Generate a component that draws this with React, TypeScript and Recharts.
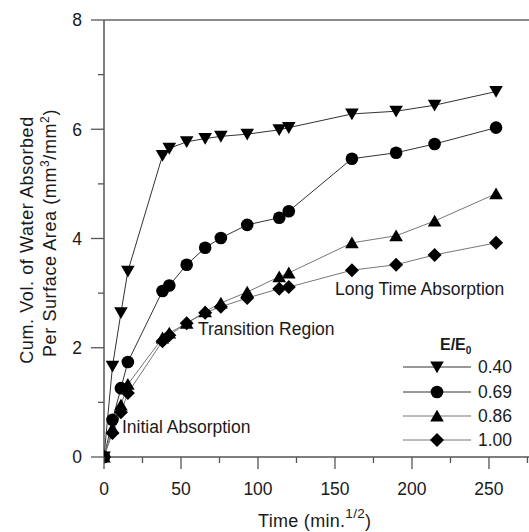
import React from 'react';
import { LineChart, Line, XAxis, YAxis, ReferenceLine } from 'recharts';

const times = [0, 5.5, 11, 15.5, 38, 42.4, 53.7, 65.7, 75.9, 93, 113.8, 120, 161, 189.7, 214.7, 254.6];
const s040 = [0, 1.66, 2.64, 3.4, 5.52, 5.65, 5.77, 5.83, 5.87, 5.91, 5.99, 6.03, 6.28, 6.33, 6.44, 6.69];
const s069 = [0, 0.68, 1.26, 1.74, 3.04, 3.14, 3.52, 3.83, 4.01, 4.25, 4.38, 4.5, 5.46, 5.57, 5.73, 6.03];
const s086 = [0, 0.52, 0.95, 1.33, 2.18, 2.27, 2.45, 2.66, 2.82, 3.02, 3.3, 3.37, 3.92, 4.05, 4.32, 4.82];
const s100 = [0, 0.44, 0.82, 1.17, 2.12, 2.23, 2.45, 2.64, 2.75, 2.91, 3.08, 3.11, 3.42, 3.52, 3.7, 3.92];
const seriesLabels = ['0.40', '0.69', '0.86', '1.00'];
const xTicks = [0, 25, 50, 75, 100, 125, 150, 175, 200, 225, 250, 275];
const yTicks = [0, 1, 2, 3, 4, 5, 6, 7, 8];

const data = times.map((t, i) => ({ t, a: s040[i], b: s069[i], c: s086[i], d: s100[i] }));

const FONT = '"Liberation Sans", Arial, sans-serif';
const AXIS = '#555';
const TXT = '#1a1a1a';

type Kind = 'down' | 'circle' | 'up' | 'diamond';

function Marker({ kind, cx, cy }: { kind: Kind; cx: number; cy: number }) {
  if (kind === 'circle') return <circle cx={cx} cy={cy} r={6.3} fill="#000" />;
  if (kind === 'down')
    return <polygon points={`${cx - 6.8},${cy - 5.5} ${cx + 6.8},${cy - 5.5} ${cx},${cy + 6.3}`} fill="#000" />;
  if (kind === 'up')
    return <polygon points={`${cx - 6.8},${cy + 5.5} ${cx + 6.8},${cy + 5.5} ${cx},${cy - 6.3}`} fill="#000" />;
  return <polygon points={`${cx},${cy - 7} ${cx + 7},${cy} ${cx},${cy + 7} ${cx - 7},${cy}`} fill="#000" />;
}

const makeDot = (kind: Kind) => (p: any) => {
  if (p.cx == null || p.cy == null) return <g key={`${kind}-${p.index}`} />;
  return (
    <g key={`${kind}-${p.index}`}>
      <Marker kind={kind} cx={p.cx} cy={p.cy} />
    </g>
  );
};

function XTick(props: any) {
  const { x, y, payload } = props;
  const major = payload.value % 50 === 0;
  return (
    <g>
      <line x1={x} x2={x} y1={y} y2={y + (major ? 12 : 6)} stroke={AXIS} strokeWidth={1.3} />
      {major && (
        <text x={x} y={y + 38} textAnchor="middle" fontSize={17.5} fontFamily={FONT} fill={TXT}>
          {payload.value}
        </text>
      )}
    </g>
  );
}

function YTick(props: any) {
  const { x, y, payload } = props;
  const major = payload.value % 2 === 0;
  return (
    <g>
      <line x1={x} x2={x - (major ? 13 : 6)} y1={y} y2={y} stroke={AXIS} strokeWidth={1.3} />
      {major && (
        <text x={x - 22} y={y + 6.3} textAnchor="end" fontSize={17.5} fontFamily={FONT} fill={TXT}>
          {payload.value}
        </text>
      )}
    </g>
  );
}

const series: { key: string; kind: Kind; stroke: string }[] = [
  { key: 'a', kind: 'down', stroke: '#333' },
  { key: 'b', kind: 'circle', stroke: '#333' },
  { key: 'c', kind: 'up', stroke: '#777' },
  { key: 'd', kind: 'diamond', stroke: '#777' },
];

export default function App() {
  const legendY = [367, 392, 416, 440];
  return (
    <div style={{ position: 'fixed', left: 0, top: 0, width: 529, height: 532, background: '#fff' }}>
      <LineChart width={529} height={532} data={data} margin={{ top: 20, right: 0, bottom: 0, left: 0 }}>
        <XAxis
          dataKey="t"
          type="number"
          domain={[0, 276]}
          ticks={xTicks}
          interval={0}
          height={75}
          tickSize={0}
          tickMargin={0}
          tickLine={false}
          tick={<XTick />}
          axisLine={{ stroke: AXIS, strokeWidth: 1.5 }}
          allowDataOverflow
        />
        <YAxis
          type="number"
          domain={[0, 8]}
          ticks={yTicks}
          interval={0}
          width={104}
          tickSize={0}
          tickMargin={0}
          tickLine={false}
          tick={<YTick />}
          axisLine={{ stroke: AXIS, strokeWidth: 1.5 }}
        />
        <ReferenceLine y={8} stroke="#666" strokeWidth={1.5} />
        {series.map((s) => (
          <Line
            key={s.key}
            type="linear"
            dataKey={s.key}
            stroke={s.stroke}
            strokeWidth={1}
            dot={makeDot(s.kind)}
            activeDot={false}
            isAnimationActive={false}
          />
        ))}
      </LineChart>
      <svg
        width={529}
        height={532}
        style={{ position: 'absolute', left: 0, top: 0, pointerEvents: 'none' }}
        fontFamily={FONT}
      >
        <text
          transform="translate(33,240) rotate(-90)"
          textAnchor="middle"
          fontSize={18}
          letterSpacing={0.6}
          fill={TXT}
        >
          Cum. Vol. of Water Absorbed
        </text>
        <text
          transform="translate(56,233) rotate(-90)"
          textAnchor="middle"
          fontSize={18}
          letterSpacing={0.6}
          fill={TXT}
        >
          Per Surface Area (mm
          <tspan fontSize={12} dy={-7}>3</tspan>
          <tspan dy={7}>/mm</tspan>
          <tspan fontSize={12} dy={-7}>2</tspan>
          <tspan dy={7}>)</tspan>
        </text>
        <text x={258} y={527} fontSize={18} letterSpacing={0.3} fill={TXT}>
          Time (min.
          <tspan fontSize={13.5} dy={-9}>1/2</tspan>
          <tspan dy={9}>)</tspan>
        </text>
        <text x={122} y={433} fontSize={17.5} fill={TXT}>
          Initial Absorption
        </text>
        <text x={198} y={335} fontSize={17.5} fill={TXT}>
          Transition Region
        </text>
        <text x={335} y={295} fontSize={17.5} fill={TXT}>
          Long Time Absorption
        </text>
        <text x={440} y={350} fontSize={16} fontWeight="bold" fill={TXT}>
          E/E
          <tspan fontSize={10} dy={4}>0</tspan>
        </text>
        {series.map((s, i) => (
          <g key={s.key}>
            <line x1={403} x2={471} y1={legendY[i]} y2={legendY[i]} stroke={s.stroke} strokeWidth={1} />
            <Marker kind={s.kind} cx={437} cy={legendY[i]} />
            <text x={478} y={legendY[i] + 6.3} fontSize={17.5} fill={TXT}>
              {seriesLabels[i]}
            </text>
          </g>
        ))}
      </svg>
    </div>
  );
}
